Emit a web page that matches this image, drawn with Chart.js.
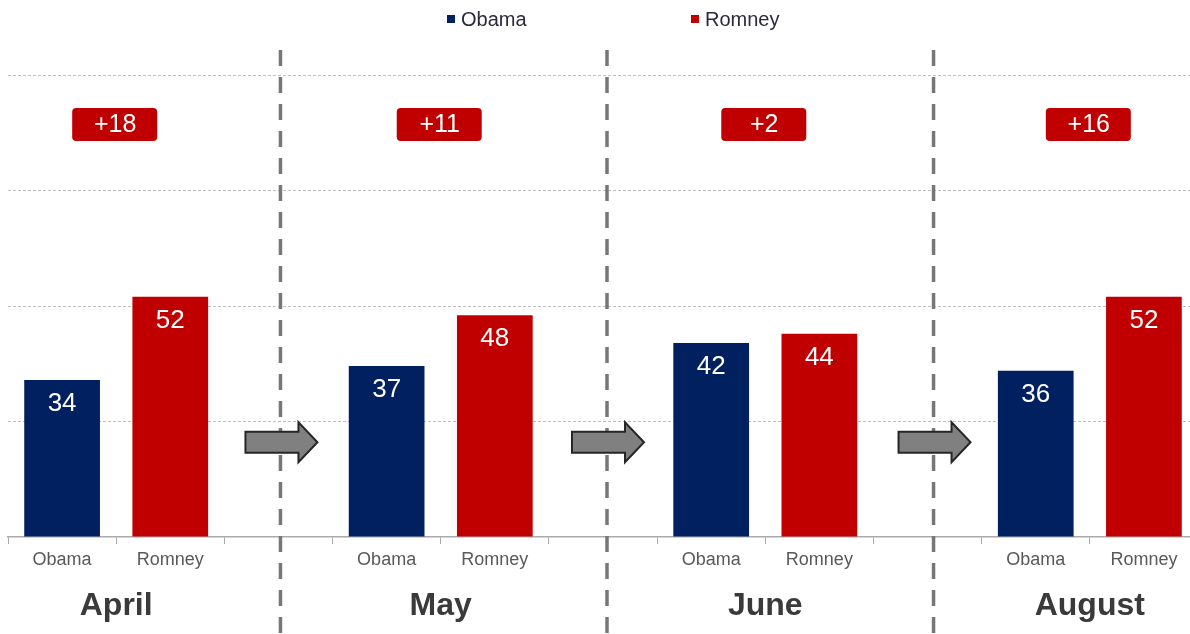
<!DOCTYPE html>
<html>
<head>
<meta charset="utf-8">
<title>Obama vs Romney</title>
<script src="https://cdn.jsdelivr.net/npm/chart.js@4/dist/chart.umd.min.js"></script>
<style>
  html, body { margin: 0; padding: 0; background: #fff; overflow: hidden; }
  #wrap { position: relative; width: 1200px; height: 634px; }
</style>
</head>
<body>
<div id="wrap"><canvas id="myChart"></canvas></div>
<script>
// poll data, one entry per month
var months = ['April', 'May', 'June', 'August'];
var obama = [34, 37, 42, 36];
var romney = [52, 48, 44, 52];
var leads = ['+18', '+11', '+2', '+16'];
var candidates = ['Obama', 'Romney'];

var OBAMA_BLUE = '#002060';
var ROMNEY_RED = '#c00000';
var FONT = '"Liberation Sans", Arial, sans-serif';

// build the category axis: Obama, Romney, gap, Obama, Romney, gap ...
var labels = [];
var obamaData = [];
var romneyData = [];
for (var i = 0; i < months.length; i++) {
    labels.push(candidates[0], candidates[1]);
    obamaData.push(obama[i], null);
    romneyData.push(null, romney[i]);
    if (i < months.length - 1) {
        labels.push('');
        obamaData.push(null);
        romneyData.push(null);
    }
}

// draws the extras: dividers, arrows, lead badges, values, month names, legend
var extrasPlugin = {
    id: 'extras',
    afterDatasetsDraw: function (chart) {
        var ctx = chart.ctx;
        var x = chart.scales.x;
        var y = chart.scales.y;
        ctx.save();

        // dashed dividers and arrows in the gap slots
        for (var i = 0; i < months.length - 1; i++) {
            var cx = x.getPixelForValue(3 * i + 2) + 2 + 2 * i;
            ctx.setLineDash([16, 11]);
            ctx.strokeStyle = '#777777';
            ctx.lineWidth = 3.5;
            ctx.beginPath();
            ctx.moveTo(cx, 50);
            ctx.lineTo(cx, 634);
            ctx.stroke();
            ctx.setLineDash([]);

            var ay = y.getPixelForValue(20.5);
            ctx.beginPath();
            ctx.moveTo(cx - 35, ay - 10.5);
            ctx.lineTo(cx + 18, ay - 10.5);
            ctx.lineTo(cx + 18, ay - 20);
            ctx.lineTo(cx + 37, ay);
            ctx.lineTo(cx + 18, ay + 20);
            ctx.lineTo(cx + 18, ay + 10.5);
            ctx.lineTo(cx - 35, ay + 10.5);
            ctx.closePath();
            ctx.fillStyle = '#808080';
            ctx.fill();
            ctx.strokeStyle = '#262626';
            ctx.lineWidth = 2;
            ctx.stroke();
        }

        // value labels inside the bars
        ctx.fillStyle = '#ffffff';
        ctx.font = '26px ' + FONT;
        ctx.textAlign = 'center';
        ctx.textBaseline = 'middle';
        chart.data.datasets.forEach(function (ds, di) {
            chart.getDatasetMeta(di).data.forEach(function (bar, k) {
                if (ds.data[k] == null) return;
                ctx.fillText(ds.data[k], bar.x, bar.y + 24);
            });
        });

        // lead badges and month names
        for (var m = 0; m < months.length; m++) {
            var gx = (x.getPixelForValue(3 * m) + x.getPixelForValue(3 * m + 1)) / 2;
            var by = y.getPixelForValue(89.3);
            ctx.fillStyle = ROMNEY_RED;
            ctx.beginPath();
            ctx.roundRect(gx - 44, by - 16.5, 85, 33, 4);
            ctx.fill();
            ctx.fillStyle = '#ffffff';
            ctx.font = '25px ' + FONT;
            ctx.fillText(leads[m], gx - 1, by + 1);

            ctx.fillStyle = '#3a3a3a';
            ctx.font = 'bold 32px ' + FONT;
            ctx.fillText(months[m], gx, 606);
        }

        // legend
        var legendX = [447, 691];
        ctx.font = '20px ' + FONT;
        ctx.textAlign = 'left';
        chart.data.datasets.forEach(function (ds, di) {
            ctx.fillStyle = ds.backgroundColor;
            ctx.fillRect(legendX[di], 15, 8, 8);
            ctx.fillStyle = '#2a2a3a';
            ctx.fillText(ds.label, legendX[di] + 14, 20);
        });

        ctx.restore();
    }
};

var ctx = document.getElementById('myChart').getContext('2d');
var myChart = new Chart(ctx, {
    type: 'bar',
    data: {
        labels: labels,
        datasets: [
            { label: 'Obama', data: obamaData, backgroundColor: OBAMA_BLUE },
            { label: 'Romney', data: romneyData, backgroundColor: ROMNEY_RED }
        ]
    },
    options: {
        responsive: true,
        maintainAspectRatio: false,
        animation: false,
        grouped: false,
        barPercentage: 0.7,
        categoryPercentage: 1,
        layout: { padding: { left: 8, right: 2, top: 75, bottom: 0 } },
        plugins: {
            legend: { display: false },
            tooltip: { enabled: false }
        },
        scales: {
            x: {
                grid: {
                    drawOnChartArea: false,
                    drawTicks: true,
                    tickLength: 7,
                    color: '#aaaaaa'
                },
                border: { display: true, color: '#aaaaaa', width: 1.5 },
                ticks: {
                    color: '#595959',
                    font: { family: FONT, size: 18 },
                    padding: 5,
                    maxRotation: 0,
                    autoSkip: false
                },
                afterFit: function (scale) { scale.height = 97; }
            },
            y: {
                min: 0,
                max: 100,
                ticks: { display: false, stepSize: 25 },
                grid: {
                    drawTicks: false,
                    color: function (c) { return c.tick.value === 0 ? 'rgba(0,0,0,0)' : '#bfbfbf'; }
                },
                border: { display: false, dash: [3, 2] },
                afterFit: function (scale) { scale.width = 0; }
            }
        }
    },
    plugins: [extrasPlugin]
});
</script>
</body>
</html>
